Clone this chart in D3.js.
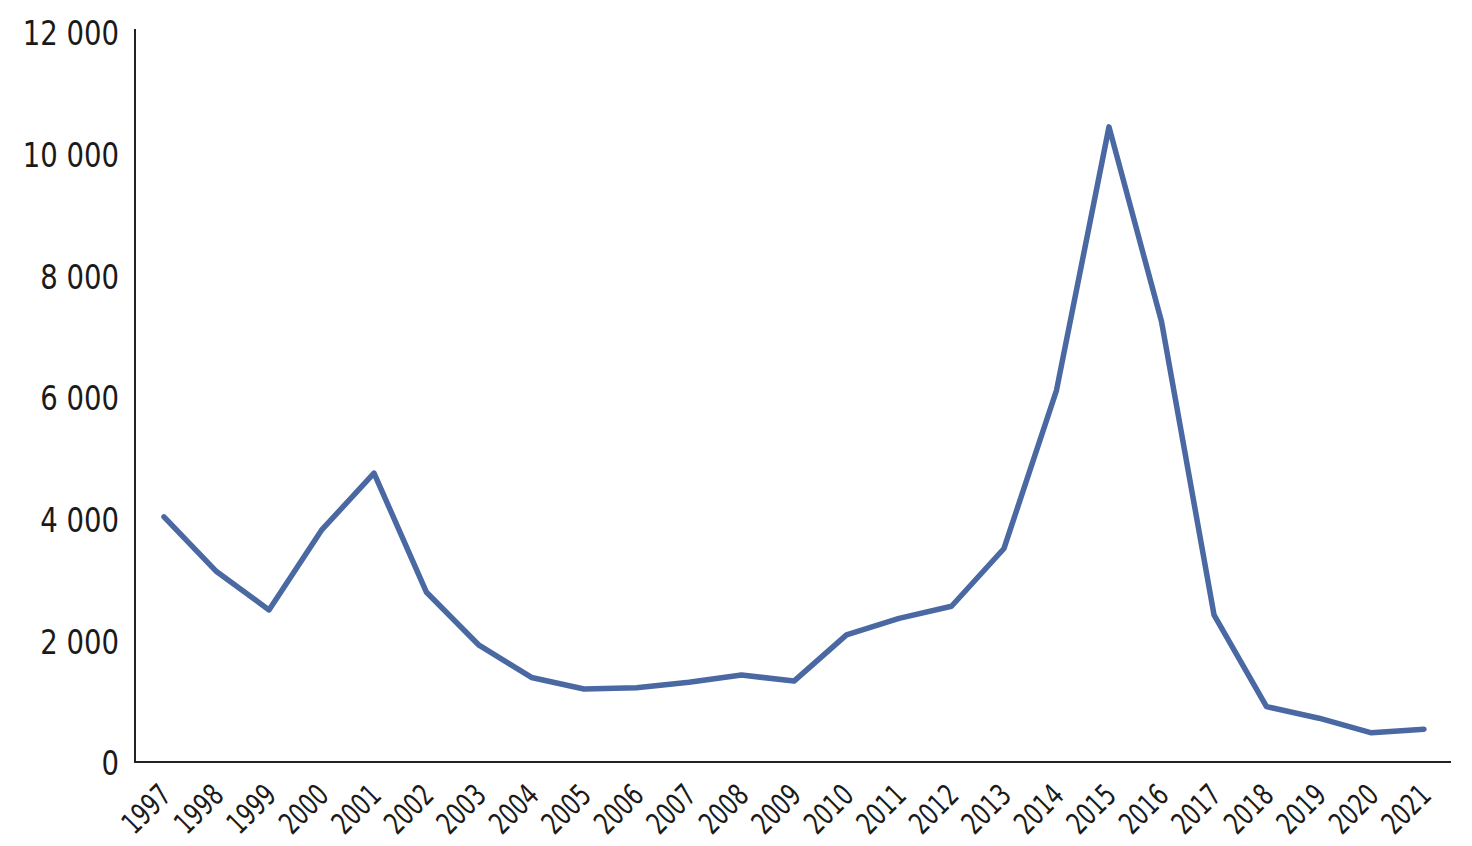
<!DOCTYPE html>
<html>
<head>
<meta charset="utf-8">
<script src="https://cdn.jsdelivr.net/npm/d3@7"></script>
<style>
    body { margin: 0; background: #fff; }
    text { font-family: 'DejaVu Sans Condensed', 'Liberation Sans Narrow', sans-serif; fill: #1a1a1a; }
</style>
</head>
<body>
<svg></svg>
<script>
const years = ['1997', '1998', '1999', '2000', '2001', '2002', '2003', '2004', '2005', '2006', '2007', '2008',
    '2009', '2010', '2011', '2012', '2013', '2014', '2015', '2016', '2017', '2018', '2019', '2020', '2021'];
const values = [4030, 3130, 2500, 3810, 4750, 2790, 1920, 1390, 1200, 1220, 1310, 1430,
    1330, 2090, 2360, 2560, 3510, 6110, 10440, 7240, 2420, 910, 720, 480, 540];
const yTicks = [0, 2000, 4000, 6000, 8000, 10000, 12000];

const width = 1472;
const height = 846;

const svg = d3.select('svg')
    .attr('width', width)
    .attr('height', height);

const x = d3.scalePoint()
    .domain(years)
    .range([137.75, 1450.25])
    .padding(0.5);

const y = d3.scaleLinear()
    .domain([0, 12000])
    .range([762, 32]);

const fmt = d3.formatLocale({ thousands: ' ', grouping: [3], decimal: ',', currency: ['', ''] }).format(',d');

// axes lines
svg.append('line')
    .attr('x1', 135).attr('x2', 135)
    .attr('y1', 29).attr('y2', y(0))
    .attr('stroke', '#222').attr('stroke-width', 2);

svg.append('line')
    .attr('x1', 134).attr('x2', 1451)
    .attr('y1', y(0)).attr('y2', y(0))
    .attr('stroke', '#222').attr('stroke-width', 2);

// y labels, squeezed a bit to look like the narrow original font
svg.append('g')
    .selectAll('text')
    .data(yTicks)
    .join('text')
    .attr('transform', d => `translate(119, ${y(d) + 1}) scale(0.9, 1)`)
    .attr('dy', '0.36em')
    .attr('text-anchor', 'end')
    .style('font-size', '34px')
    .text(d => fmt(d));

svg.append('g')
    .selectAll('text')
    .data(years)
    .join('text')
    .attr('transform', d => `translate(${x(d) + 9}, 797) rotate(-45) scale(0.8, 1)`)
    .attr('text-anchor', 'end')
    .style('font-size', '30px')
    .text(d => d);

const line = d3.line()
    .x((d, i) => x(years[i]))
    .y(d => y(d));

svg.append('path')
    .datum(values)
    .attr('d', line)
    .attr('fill', 'none')
    .attr('stroke', '#4a68a2')
    .attr('stroke-width', 5.5)
    .attr('stroke-linejoin', 'round')
    .attr('stroke-linecap', 'round');
</script>
</body>
</html>
